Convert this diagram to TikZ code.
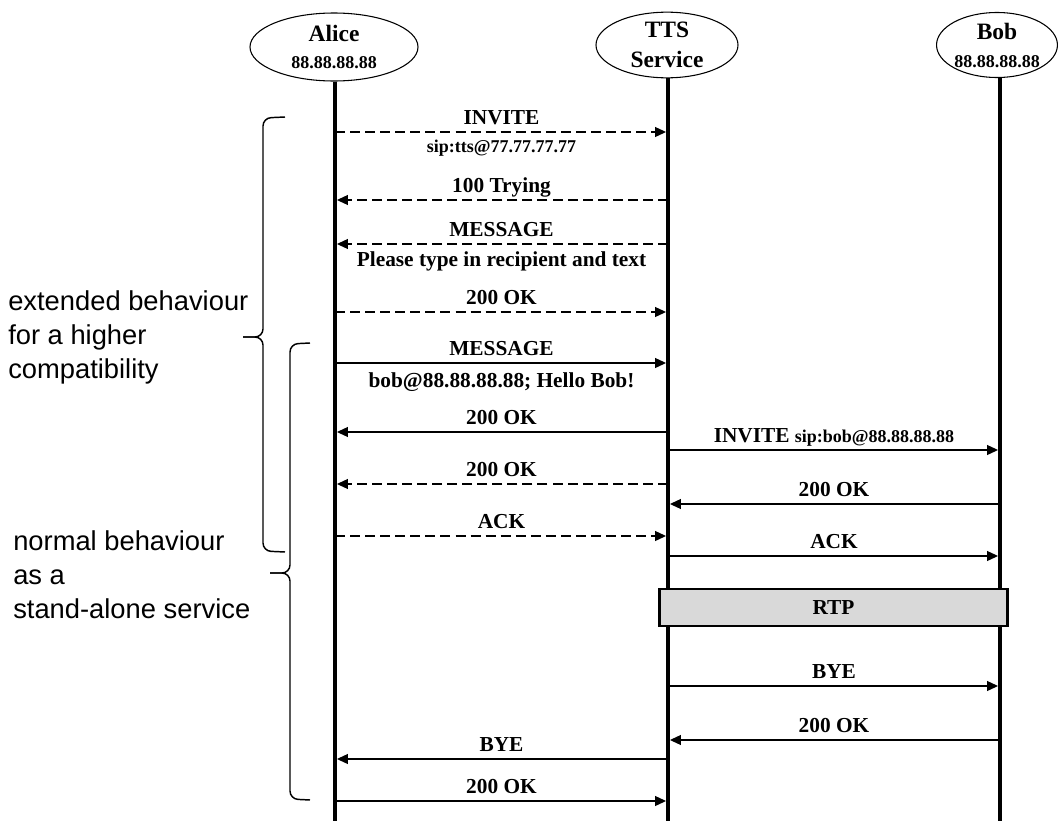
\documentclass[tikz,border=0pt]{standalone}
\usepackage{fontspec}
\setmainfont{Liberation Serif}
\newfontfamily\notefont{Liberation Sans}
\usetikzlibrary{arrows.meta,positioning,shapes.geometric}

\begin{document}
\begin{tikzpicture}[
    x=0.75pt, y=-0.75pt,
    party/.style={draw=black, line width=0.8pt, ellipse, inner sep=0pt, align=center, font=\bfseries\fontsize{17.6}{22}\selectfont},
    life/.style={line width=2.4pt},
    msg/.style={-{Triangle[length=8.5pt,width=7pt]}, line width=2.2pt, shorten >=1.2pt},
    dmsg/.style={msg, dash pattern=on 7.5pt off 3.8pt},
    lbl/.style={font=\bfseries\fontsize{16}{19}\selectfont, inner sep=0pt, anchor=base},
    sub/.style={font=\bfseries\fontsize{13.5}{16}\selectfont, inner sep=0pt, anchor=base},
    note/.style={font=\notefont\fontsize{20.5}{25.5}\selectfont, align=left, anchor=west, inner sep=0pt},
    rtp/.style={draw=black, line width=1.6pt, fill=gray!30, minimum width=261pt, minimum height=27.75pt, inner sep=0pt, font=\bfseries\fontsize{16}{19}\selectfont},
    brc/.style={line width=1.1pt, rounded corners=6pt}
  ]
    \useasboundingbox (0,0) rectangle (1058,821);

    % participants
    \node[party, minimum width=126pt, minimum height=51pt] (alice) at (334,47) {Alice\\[-2pt]{\fontsize{13.5}{16}\selectfont 88.88.88.88}};
    \node[party, minimum width=106.5pt, minimum height=48pt] (tts) at (667,45) {TTS\\[1pt]Service};
    \node[party, minimum width=88.5pt, minimum height=48.75pt] (bob) at (997,45) {Bob\\[-1pt]{\fontsize{13.5}{16}\selectfont 88.88.88.88}};

    \coordinate (A) at (335,0);
    \coordinate (T) at (668,0);
    \coordinate (B) at (1000,0);

    \draw[life] (A |- alice.south) -- (A |- 0,821);
    \draw[life] (T |- tts.south) -- (T |- 0,821);
    \draw[life] (B |- bob.south) -- (B |- 0,821);

    % extended behaviour
    \draw[dmsg] (A |- 0,132) -- (T |- 0,132) node[lbl, midway, yshift=6pt] (inv1) {INVITE} node[sub, midway, yshift=-15pt] (inv1b) {sip:tts@77.77.77.77};
    \draw[dmsg] (T |- 0,200) -- (A |- 0,200) node[lbl, midway, yshift=6pt] (try) {100 Trying};
    \draw[dmsg] (T |- 0,244) -- (A |- 0,244) node[lbl, midway, yshift=6pt] (msg1) {MESSAGE} node[lbl, midway, yshift=-17pt] (msg1b) {Please type in recipient and text};
    \draw[dmsg] (A |- 0,312) -- (T |- 0,312) node[lbl, midway, yshift=6pt] (ok1) {200 OK};

    % normal behaviour
    \draw[msg] (A |- 0,363) -- (T |- 0,363) node[lbl, midway, yshift=6pt] (msg2) {MESSAGE} node[lbl, midway, yshift=-18pt] (msg2b) {bob@88.88.88.88; Hello Bob!};
    \draw[msg] (T |- 0,432) -- (A |- 0,432) node[lbl, midway, yshift=6pt] (ok2) {200 OK};
    \draw[msg] (T |- 0,450) -- (B |- 0,450) node[lbl, midway, yshift=6pt] (inv2) {INVITE {\fontsize{13.5}{16}\selectfont sip:bob@88.88.88.88}};
    \draw[dmsg] (T |- 0,484) -- (A |- 0,484) node[lbl, midway, yshift=6pt] (ok3) {200 OK};
    \draw[msg] (B |- 0,504) -- (T |- 0,504) node[lbl, midway, yshift=6pt] (ok4) {200 OK};
    \draw[dmsg] (A |- 0,536) -- (T |- 0,536) node[lbl, midway, yshift=6pt] (ack1) {ACK};
    \draw[msg] (T |- 0,556) -- (B |- 0,556) node[lbl, midway, yshift=6pt] (ack2) {ACK};

    \node[rtp] (media) at (833.5,607.5) {RTP};

    \draw[msg] (T |- 0,686) -- (B |- 0,686) node[lbl, midway, yshift=6pt] (bye1) {BYE};
    \draw[msg] (B |- 0,740) -- (T |- 0,740) node[lbl, midway, yshift=6pt] (ok5) {200 OK};
    \draw[msg] (T |- 0,759) -- (A |- 0,759) node[lbl, midway, yshift=6pt] (bye2) {BYE};
    \draw[msg] (A |- 0,801) -- (T |- 0,801) node[lbl, midway, yshift=6pt] (ok6) {200 OK};

    % braces and notes
    \coordinate (ext top) at (285,117);
    \coordinate (ext tip) at (243,337);
    \coordinate (ext bot) at (285,552);
    \coordinate (norm top) at (310,343);
    \coordinate (norm tip) at (270,573);
    \coordinate (norm bot) at (310,800);
    \draw[brc] (ext top) -- (263,118) -- (263,337) -- (ext tip);
    \draw[brc] (ext bot) -- (263,551) -- (263,337) -- (ext tip);
    \draw[brc] (norm top) -- (290,344) -- (290,573) -- (norm tip);
    \draw[brc] (norm bot) -- (290,799) -- (290,573) -- (norm tip);

    \node[note] (ext) at (8,337) {extended behaviour\\for a higher\\compatibility};
    \node[note] (norm) at (13,575) {normal behaviour\\as a\\stand-alone service};
  \end{tikzpicture}
\end{document}
